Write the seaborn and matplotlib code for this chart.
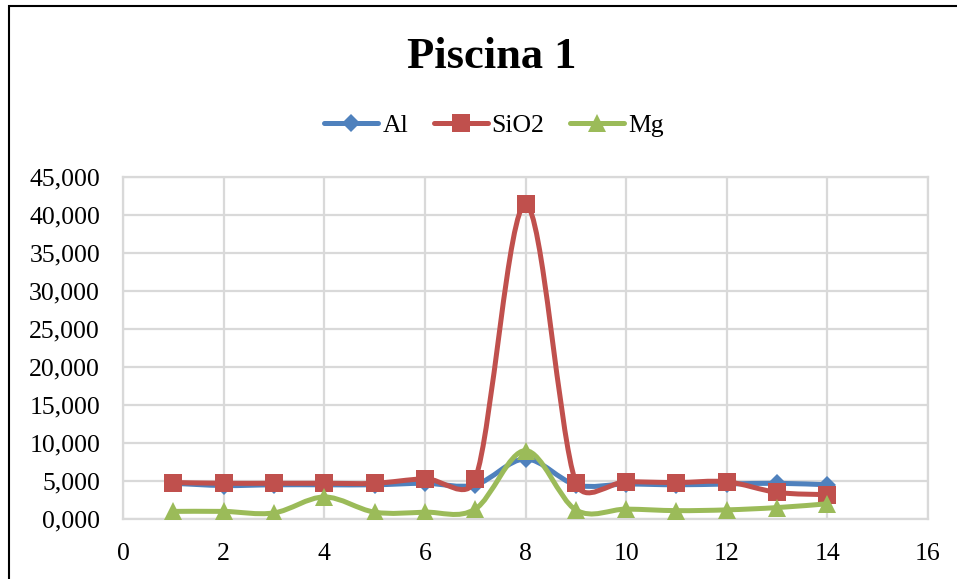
import numpy as np
import pandas as pd
import matplotlib
matplotlib.use("Agg")
import matplotlib.pyplot as plt
import seaborn as sns
from matplotlib.path import Path
from matplotlib.patches import PathPatch, Rectangle
from matplotlib.lines import Line2D
from matplotlib.ticker import FuncFormatter, MultipleLocator

# ---- data ----
x_vals = [1, 2, 3, 4, 5, 6, 7, 8, 9, 10, 11, 12, 13, 14]
al = [4.7, 4.4, 4.5, 4.5, 4.5, 4.7, 4.5, 7.9, 4.5, 4.6, 4.5, 4.6, 4.7, 4.5]
sio2 = [4.8, 4.7, 4.7, 4.7, 4.7, 5.3, 5.2, 41.4, 4.8, 4.9, 4.8, 4.9, 3.5, 3.2]
mg = [1.0, 1.0, 0.8, 2.9, 0.9, 0.9, 1.3, 9.0, 1.2, 1.3, 1.1, 1.2, 1.5, 2.0]
series_names = ["Al", "SiO2", "Mg"]
title = "Piscina 1"

colors = {"Al": "#4F81BD", "SiO2": "#C0504D", "Mg": "#9BBB59"}
markers = {"Al": "D", "SiO2": "s", "Mg": "^"}
msizes = {"Al": 9.5, "SiO2": 13, "Mg": 13}

sns.set_style("white")
plt.rcParams['font.family'] = ['Liberation Serif', 'DejaVu Serif']
plt.rcParams['text.color'] = 'black'
plt.rcParams['xtick.color'] = 'black'
plt.rcParams['ytick.color'] = 'black'
plt.rcParams['xtick.labelcolor'] = 'black'
plt.rcParams['ytick.labelcolor'] = 'black'

W, H = 957, 579
fig = plt.figure(figsize=(W / 100, H / 100), dpi=100)
ax = fig.add_axes([123 / W, 1 - 519 / H, (928 - 123) / W, (519 - 177) / H])
ax.set_xlim(0, 16)
ax.set_ylim(0, 45)

grid_c = "#D9D9D9"
ax.xaxis.set_major_locator(MultipleLocator(2))
ax.yaxis.set_major_locator(MultipleLocator(5))
ax.grid(True, color=grid_c, lw=1.6)
for s in ax.spines.values():
    s.set_color(grid_c)
    s.set_linewidth(1.6)
ax.tick_params(axis='both', length=0, labelsize=18.5, labelcolor='black')
ax.tick_params(axis='y', pad=16.5)
ax.tick_params(axis='x', pad=17)
ax.yaxis.set_major_formatter(FuncFormatter(lambda v, p: f"{v:.3f}".replace('.', ',')))
ax.xaxis.set_major_formatter(FuncFormatter(lambda v, p: f"{int(round(v))}"))


def smooth_path(xs, ys):
    """Excel-style smoothed bezier, control points computed in display space."""
    pts = ax.transData.transform(np.column_stack([xs, ys]))
    n = len(pts)
    verts = [pts[0]]
    codes = [Path.MOVETO]
    for i in range(n - 1):
        p0 = pts[i - 1] if i > 0 else pts[i]
        p1 = pts[i]
        p2 = pts[i + 1]
        p3 = pts[i + 2] if i + 2 < n else pts[i + 1]
        d02 = np.linalg.norm(p2 - p0)
        d12 = np.linalg.norm(p2 - p1)
        d13 = np.linalg.norm(p3 - p1)
        f0 = 1 / 6
        f3 = 1 / 6
        if d02 / 6 >= d12 / 2 and d02 > 0:
            f0 = d12 / d02 / 2
        if d13 / 6 >= d12 / 2 and d13 > 0:
            f3 = d12 / d13 / 2
        c1 = p1 + (p2 - p0) * f0
        c2 = p2 - (p3 - p1) * f3
        verts += [c1, c2, p2]
        codes += [Path.CURVE4] * 3
    data_verts = ax.transData.inverted().transform(np.array(verts))
    return Path(data_verts, codes)


df = pd.DataFrame({"x": x_vals, "Al": al, "SiO2": sio2, "Mg": mg})
handles = []
for z, name in enumerate(series_names):
    path = smooth_path(df["x"].values, df[name].values)
    patch = PathPatch(path, facecolor="none", edgecolor=colors[name], lw=3.6,
                      capstyle="round", joinstyle="round", zorder=3 + 2 * z)
    ax.add_patch(patch)
    sns.lineplot(data=df, x="x", y=name, ax=ax, marker=markers[name],
                 markersize=msizes[name], color=colors[name], linestyle="",
                 markeredgewidth=0, zorder=4 + 2 * z, legend=False)
    handles.append(Line2D([], [], color=colors[name], lw=3.6, marker=markers[name],
                          markersize=msizes[name], markeredgewidth=0))

ax.set_xlabel("")
ax.set_ylabel("")

fig.legend(handles, series_names, loc="center", bbox_to_anchor=(494 / W, 1 - 126 / H),
           ncol=3, frameon=False, fontsize=18.5, handlelength=2.1,
           handletextpad=0.15, columnspacing=1.0, labelcolor='black')

fig.text(492 / W, 1 - 57 / H, title, ha="center", va="center",
         fontsize=32, fontweight="bold", color="black")

fig.patches.append(Rectangle((9 / W, -0.1), 1.2, 1 - 6 / H + 0.1, transform=fig.transFigure,
                             fill=False, edgecolor="black", lw=1.5, figure=fig))

fig.savefig("out.png", dpi=100)
